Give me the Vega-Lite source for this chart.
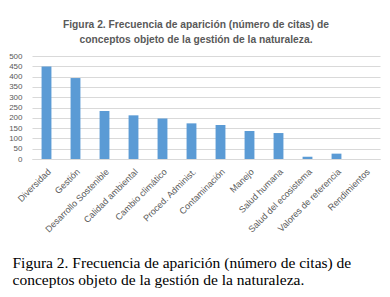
{
  "$schema": "https://vega.github.io/schema/vega-lite/v6.json",
  "width": 348,
  "height": 103,
  "autosize": {"type": "none"},
  "padding": {"left": 32, "top": 56, "right": 10, "bottom": 138},
  "background": "white",
  "title": {
    "text": ["Figura 2. Frecuencia de aparición (número de citas) de", "conceptos objeto de la gestión de la naturaleza."],
    "font": "Liberation Sans",
    "fontSize": 10.25,
    "fontWeight": "bold",
    "color": "#595959",
    "lineHeight": 15,
    "offset": 7,
    "dx": -10,
    "anchor": "middle"
  },
  "config": {
    "view": {"stroke": null},
    "axis": {"labelFont": "Liberation Sans", "labelColor": "#595959", "labelFontSize": 8}
  },
  "data": {
    "values": [
      {"concepto": "Diversidad", "citas": 449},
      {"concepto": "Gestión", "citas": 393},
      {"concepto": "Desarrollo Sostenible", "citas": 233},
      {"concepto": "Calidad ambiental", "citas": 212},
      {"concepto": "Cambio climático", "citas": 196},
      {"concepto": "Proced. Administ.", "citas": 173},
      {"concepto": "Contaminación", "citas": 165},
      {"concepto": "Manejo", "citas": 136},
      {"concepto": "Salud humana", "citas": 126},
      {"concepto": "Salud del ecosistema", "citas": 11},
      {"concepto": "Valores de referencia", "citas": 26},
      {"concepto": "Rendimientos", "citas": 0}
    ]
  },
  "mark": {"type": "bar", "color": "#5B9BD5"},
  "encoding": {
    "x": {
      "field": "concepto",
      "type": "nominal",
      "sort": null,
      "scale": {"paddingInner": 0.66, "paddingOuter": 0.33},
      "axis": {
        "labelAngle": -45,
        "labelFontSize": 9,
        "ticks": false,
        "domain": true,
        "domainColor": "#d9d9d9",
        "labelPadding": 8,
        "title": ["Figura 2. Frecuencia de aparición (número de citas) de", "conceptos objeto de la gestión de la naturaleza."],
        "titleFont": "Liberation Serif",
        "titleFontSize": 15.5,
        "titleFontWeight": "normal",
        "titleColor": "#000000",
        "titleLineHeight": 17,
        "titleAlign": "left",
        "titleAnchor": "start",
        "titleX": -20,
        "titlePadding": 22
      }
    },
    "y": {
      "field": "citas",
      "type": "quantitative",
      "scale": {"domain": [0, 500], "nice": false},
      "axis": {
        "values": [0, 50, 100, 150, 200, 250, 300, 350, 400, 450, 500],
        "title": null,
        "ticks": false,
        "domain": false,
        "gridColor": "#d9d9d9",
        "labelPadding": 10
      }
    }
  }
}
